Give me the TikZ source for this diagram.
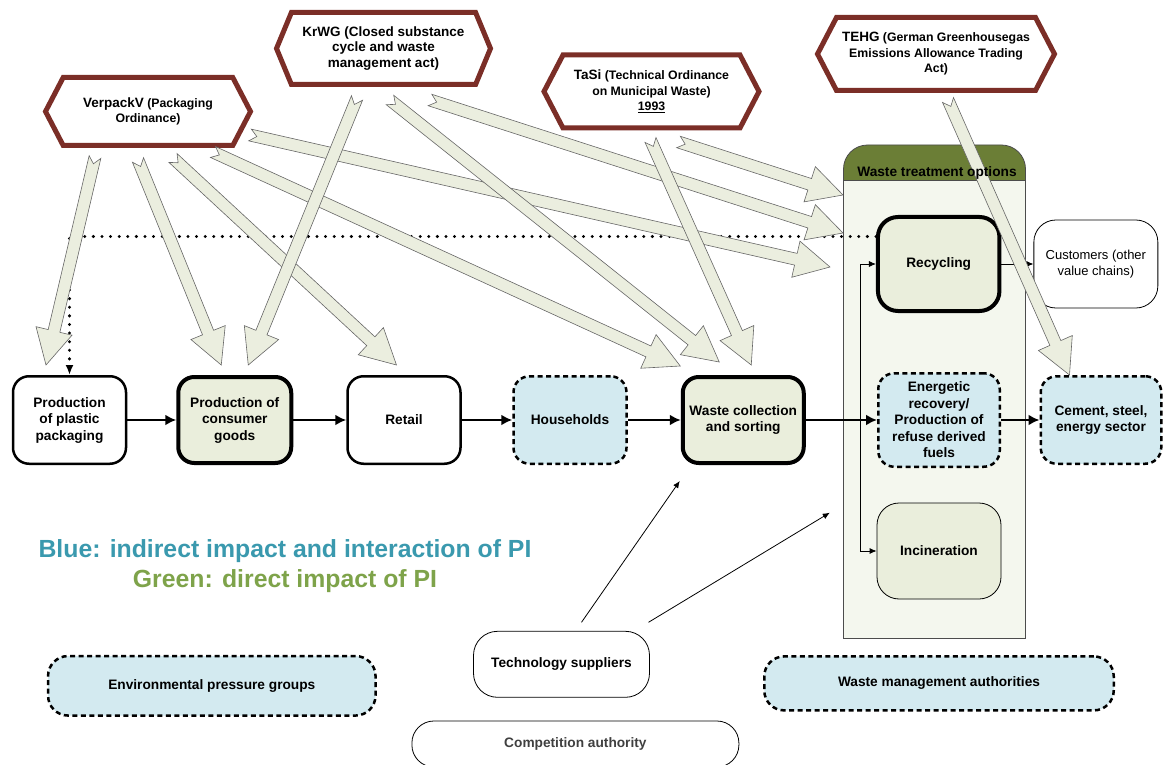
\documentclass[tikz,border=0pt]{standalone}
\usepackage{fontspec}
\setmainfont{Liberation Sans}
\usetikzlibrary{arrows,arrows.meta,positioning,calc,shapes.symbols}

\definecolor{lawred}{HTML}{7B2E27}
\definecolor{arrfill}{HTML}{EBEEDF}
\definecolor{pigreen}{HTML}{EAEEDC}
\definecolor{piblue}{HTML}{D3EAF0}
\definecolor{optbg}{HTML}{F4F7EE}
\definecolor{opthead}{HTML}{6B7E36}
\definecolor{legblue}{HTML}{3A99AE}
\definecolor{leggreen}{HTML}{7EA34A}

\newcommand{\boxfont}{\fontsize{13.7}{16.5}\selectfont\bfseries}
\newcommand{\lawfont}{\fontsize{12.3}{15.5}\selectfont\bfseries}
\newcommand{\lawbig}{\fontsize{13.5}{15.5}\selectfont}

\tikzset{
    %Define standard arrow tip
    >={Latex[length=7pt,width=6pt]},
    %Define style for boxes
    stage/.style={
           rectangle,
           rounded corners=16pt,
           draw=black, line width=2.5pt,
           minimum width=113pt,
           minimum height=87.5pt,
           inner sep=2pt,
           font=\boxfont,
           align=center,
           fill=white},
    direct/.style={stage, line width=4pt, minimum height=86pt, fill=pigreen},
    indirect/.style={stage, fill=piblue, dash pattern=on 5pt off 3.5pt},
    actor/.style={
           rectangle,
           rounded corners=22pt,
           draw=black, line width=0.8pt,
           inner sep=2pt,
           font=\boxfont,
           align=center,
           fill=white},
    law/.style={
           signal, signal to=east and west,
           signal pointer angle=125,
           draw=lawred, line width=5pt,
           inner sep=2pt,
           font=\lawfont,
           align=center,
           fill=white},
    % Define arrow styles
    flow/.style={-{Latex[length=11pt,width=11pt]}, line width=2.5pt},
    link/.style={->, line width=0.8pt},
    feedback/.style={-{Latex[length=10pt,width=8pt]}, line width=3.3pt, line cap=round, dash pattern=on 0pt off 8.6pt},
    blk/.style={
           draw=black!60, fill=arrfill, line width=0.6pt,
           to path={
             ($(\tikztostart)!6pt!90:(\tikztotarget)$)
             -- ($($(\tikztotarget)!35pt!(\tikztostart)$)!6pt!90:(\tikztotarget)$)
             -- ($($(\tikztotarget)!35pt!(\tikztostart)$)!18.5pt!90:(\tikztotarget)$)
             -- (\tikztotarget)
             -- ($($(\tikztotarget)!35pt!(\tikztostart)$)!18.5pt!-90:(\tikztotarget)$)
             -- ($($(\tikztotarget)!35pt!(\tikztostart)$)!6pt!-90:(\tikztotarget)$)
             -- ($(\tikztostart)!6pt!-90:(\tikztotarget)$)
             -- ($(\tikztostart)!7pt!(\tikztotarget)$)
             -- cycle}}
}

\begin{document}
\begin{tikzpicture}[x=1pt,y=-1pt]
\useasboundingbox (0,0) rectangle (1163,765);

% waste treatment options
\node[draw=black!70, fill=opthead, line width=0.8pt, rounded corners=24pt,
      minimum width=182pt, minimum height=70pt] (wtohead) at (934.5,180) {};
\node[draw=black!70, fill=optbg, line width=0.8pt,
      minimum width=182pt, minimum height=458pt] (wto) at (934.5,409) {};

% value chain
\node[stage] (plastic) at (69.5,420) {Production\\of plastic\\packaging};
\node[direct, right=49pt of plastic] (consumer) {Production of\\consumer\\goods};
\node[stage, right=53pt of consumer] (retail) {Retail};
\node[indirect, right=50.5pt of retail] (households) {Households};
\node[direct, minimum width=121pt, right=53pt of households] (wastecoll) {Waste collection\\and sorting};
\node[indirect, minimum width=121.5pt, minimum height=93.5pt] (energetic) at (939,420)
     {Energetic\\recovery/\\Production of\\refuse derived\\fuels};
\node[indirect, minimum width=120.5pt, right=38.5pt of energetic] (cement) {Cement, steel,\\energy sector};
\node[direct, rounded corners=20pt, minimum width=121.5pt, minimum height=94pt] (recycling) at (938.7,264) {Recycling};
\node[actor, font=\fontsize{13}{16.5}\selectfont, minimum width=124pt, minimum height=88pt,
      right=32pt of recycling] (customers) {Customers (other\\value chains)};
\node[actor, fill=pigreen, minimum width=124pt, minimum height=96pt] (incineration) at (939,551) {Incineration};

% other actors
\node[indirect, rounded corners=20pt, minimum width=327.5pt, minimum height=59.5pt] (envgroups) at (211.8,685.8)
     {Environmental pressure groups};
\node[actor, rounded corners=24pt, minimum width=176pt, minimum height=66pt] (tech) at (561.5,664.3) {Technology suppliers};
\node[actor, text=black!75, minimum width=327pt, minimum height=46pt] (compauth) at (575.4,744) {Competition authority};
\node[indirect, rounded corners=20pt, minimum width=349.5pt, minimum height=54pt] (wma) at (939,683.4)
     {Waste management authorities};

\node[font=\fontsize{24.8}{30}\selectfont\bfseries, align=center] (legend) at (285,566.5)
     {\textcolor{legblue}{Blue: indirect impact and interaction of PI}\\\textcolor{leggreen}{Green: direct impact of PI}};

% regulations
\node[law, minimum width=205pt, minimum height=68pt] (verpack) at (148,111.5)
     {{\lawbig VerpackV} (Packaging\\Ordinance)};
\node[law, font=\lawbig\bfseries, signal pointer angle=135, minimum width=214pt, minimum height=72pt] (krwg) at (383.5,48.5)
     {KrWG (Closed substance\\cycle and waste\\management act)};
\node[law, minimum width=215pt, minimum height=73pt] (tasi) at (651.5,91.5)
     {{\lawbig TaSi} (Technical Ordinance\\on Municipal Waste)\\\underline{1993}};
\node[law, minimum width=237pt, minimum height=73pt] (tehg) at (936,54)
     {{\lawbig TEHG} (German Greenhousegas\\Emissions Allowance Trading\\Act)};

% material flow
\draw[flow] (plastic) -- (consumer);
\draw[flow] (consumer) -- (retail);
\draw[flow] (retail) -- (households);
\draw[flow] (households) -- (wastecoll);
\draw[flow] (wastecoll) -- (energetic);
\draw[flow] (energetic) -- (cement);

\coordinate (split) at ($(wastecoll.east)!0.767!(energetic.west)$);
\draw[link] (split) |- (recycling.west);
\draw[link] (split) |- (incineration.west);
\draw[link] (recycling) -- (customers);

\draw[link] ([shift={(20,-42)}]tech.center) -- ([shift={(-63.5,61)}]wastecoll.center);
\draw[link] ([shift={(87,-42)}]tech.center) -- ([shift={(-104.7,103.7)}]wto.center);

% recycled material back to packaging
\draw[feedback] ([shift={(0,-27.5)}]recycling.west) -| (plastic.north);

% impact of the regulations
\path
  ([shift={(-53,45.5)}]verpack.center) edge[blk] ([shift={(-23.5,-55)}]plastic.center)
  ([shift={(-10,48.5)}]verpack.center) edge[blk] ([shift={(-13.5,-55)}]consumer.center)
  ([shift={(25,46.5)}]verpack.center) edge[blk] ([shift={(-7.5,-55)}]retail.center)
  ([shift={(65,40.5)}]verpack.center) edge[blk] ([shift={(-63,-54)}]wastecoll.center)
  ([shift={(102,23.5)}]verpack.center) edge[blk] ([shift={(-108.7,3)}]recycling.center);
\path
  ([shift={(-26.5,49.5)}]krwg.center) edge[blk] ([shift={(13.5,-55)}]consumer.center)
  ([shift={(6.5,51.5)}]krwg.center) edge[blk] ([shift={(-24,-58)}]wastecoll.center)
  ([shift={(46.5,51.5)}]krwg.center) edge[blk] ([shift={(-95.7,-31)}]recycling.center);
\path
  ([shift={(-1,48.5)}]tasi.center) edge[blk] ([shift={(8,-55)}]wastecoll.center)
  ([shift={(27,50.5)}]tasi.center) edge[blk] ([shift={(-95.7,-69)}]recycling.center);
\path
  ([shift={(12,46)}]tehg.center) edge[blk] ([shift={(-31.5,-45)}]cement.center);

\node[font=\boxfont, anchor=base, inner sep=0pt] (wtotitle) at (937,177) {Waste treatment options};
\end{tikzpicture}
\end{document}
